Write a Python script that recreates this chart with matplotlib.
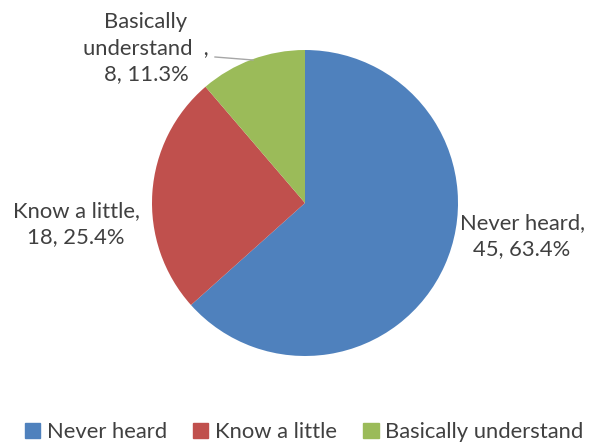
import matplotlib.pyplot as plt
from matplotlib.patches import Rectangle

plt.rcParams['font.family'] = ['Lato', 'DejaVu Sans']

categories = ['Never heard', 'Know a little', 'Basically understand']
counts = [45, 18, 8]
percents = [63.4, 25.4, 11.3]
colors = ['#4F81BD', '#C0504D', '#9BBB59']
text_color = '#404040'

W, H = 602, 445
fig = plt.figure(figsize=(W / 100, H / 100), dpi=100)

# pie centre (305, 203) px, radius ~153 px
cx, cy, r = 305, 203, 153
ax = fig.add_axes([(cx - r) / W, 1 - (cy + r) / H, 2 * r / W, 2 * r / H])
ax.pie(counts, colors=colors, startangle=90, counterclock=False,
       radius=1, wedgeprops=dict(linewidth=0))
ax.set_xlim(-1, 1)
ax.set_ylim(-1, 1)
ax.set_aspect('equal')
ax.axis('off')

def px(x, y):
    return ((x - cx) / r, (cy - y) / r)

fs = 15.8
ls = 1.4
x, y = px(522, 236)
ax.text(x, y, f'{categories[0]},\n{counts[0]}, {percents[0]}%', ha='center', va='center',
        fontsize=fs, color=text_color, linespacing=ls, clip_on=False)
x, y = px(76, 224)
ax.text(x, y, f'{categories[1]},\n{counts[1]}, {percents[1]}%', ha='center', va='center',
        fontsize=fs, color=text_color, linespacing=ls, clip_on=False)
x, y = px(146, 48)
ax.text(x, y, f'Basically\nunderstand  ,\n{counts[2]}, {percents[2]}%', ha='center', va='center',
        fontsize=fs, color=text_color, linespacing=ls, clip_on=False)

# leader line for the small slice
x0, y0 = px(215, 57)
x1, y1 = px(253, 60)
ax.plot([x0, x1], [y0, y1], color='#A6A6A6', lw=1, clip_on=False)

# legend
handles = [Rectangle((0, 0), 1, 1, color=c) for c in colors]
fig.legend(handles, categories, loc='center', bbox_to_anchor=(0.505, 1 - 432 / H),
           ncol=3, frameon=False, fontsize=fs, handlelength=0.7, handleheight=0.7,
           handletextpad=0.3, columnspacing=1.2, labelcolor=text_color)

fig.savefig('out.png', dpi=100)
